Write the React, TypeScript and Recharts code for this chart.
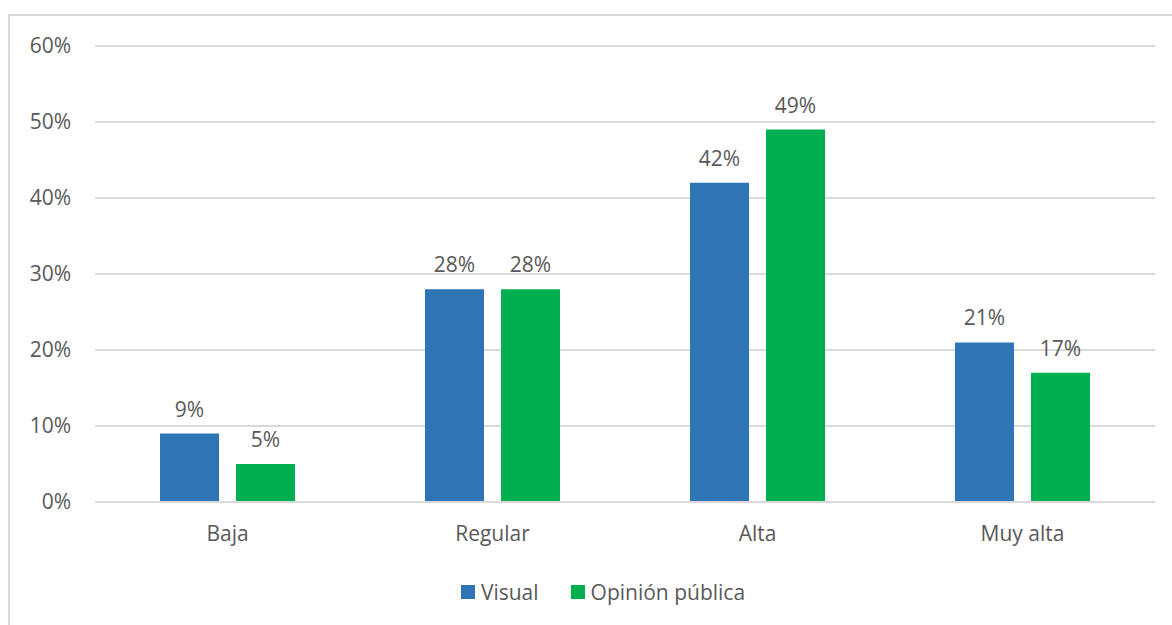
import React from 'react';
import { BarChart, Bar, XAxis, YAxis, CartesianGrid, LabelList } from 'recharts';

const categories = ['Baja', 'Regular', 'Alta', 'Muy alta'];
const visual = [9, 28, 42, 21];
const opinionPublica = [5, 28, 49, 17];
const yTicks = [0, 10, 20, 30, 40, 50, 60];

const series = [
  { key: 'visual', name: 'Visual', color: '#2E75B6' },
  { key: 'opinion', name: 'Opinión pública', color: '#00B050' },
];

const data = categories.map((name, i) => ({
  name,
  visual: visual[i],
  opinion: opinionPublica[i],
}));

const FONT = '"Open Sans", sans-serif';
const TEXT = '#595959';
const GRID = '#D9D9D9';
const FS = 21;

export default function App() {
  const pct = (v: any) => `${v}%`;

  return (
    <div
      style={{
        position: 'absolute',
        left: 0,
        top: 0,
        width: 1172,
        height: 625,
        overflow: 'hidden',
        background: '#fff',
        fontFamily: FONT,
      }}
    >
      {/* chart frame, only top and left edges show */}
      <div
        style={{
          position: 'absolute',
          left: 8,
          top: 14,
          width: 1300,
          height: 800,
          borderTop: `2px solid ${GRID}`,
          borderLeft: `2px solid ${GRID}`,
        }}
      />
      <div style={{ position: 'absolute', left: 0, top: 0 }}>
        <BarChart
          width={1172}
          height={625}
          data={data}
          margin={{ top: 46, right: 17, left: 0, bottom: 0 }}
          barSize={59}
          barGap={17}
        >
          <CartesianGrid vertical={false} stroke={GRID} strokeWidth={2} />
          <XAxis
            dataKey="name"
            axisLine={{ stroke: GRID, strokeWidth: 2 }}
            tickLine={false}
            tickSize={0}
            tickMargin={24}
            height={123}
            tick={{ fill: TEXT, fontSize: FS, fontFamily: FONT }}
          />
          <YAxis
            domain={[0, 60]}
            ticks={yTicks}
            tickFormatter={pct}
            axisLine={false}
            tickLine={false}
            tickSize={0}
            tickMargin={24}
            width={95}
            interval={0}
            tick={{ fill: TEXT, fontSize: FS, fontFamily: FONT }}
          />
          {series.map((s) => (
            <Bar key={s.key} dataKey={s.key} name={s.name} fill={s.color} isAnimationActive={false}>
              <LabelList
                dataKey={s.key}
                position="top"
                offset={17}
                formatter={pct}
                fill={TEXT}
                fontSize={FS}
                fontFamily={FONT}
              />
            </Bar>
          ))}
        </BarChart>
      </div>
      {/* legend */}
      <div
        style={{
          position: 'absolute',
          left: 0,
          top: 578,
          width: 1172,
          display: 'flex',
          justifyContent: 'center',
          alignItems: 'center',
          gap: 32,
          paddingLeft: 34,
          boxSizing: 'border-box',
        }}
      >
        {series.map((s) => (
          <div key={s.key} style={{ display: 'flex', alignItems: 'center', gap: 6 }}>
            <div style={{ width: 14, height: 14, background: s.color }} />
            <span style={{ color: TEXT, fontSize: FS, lineHeight: '28px' }}>{s.name}</span>
          </div>
        ))}
      </div>
    </div>
  );
}
